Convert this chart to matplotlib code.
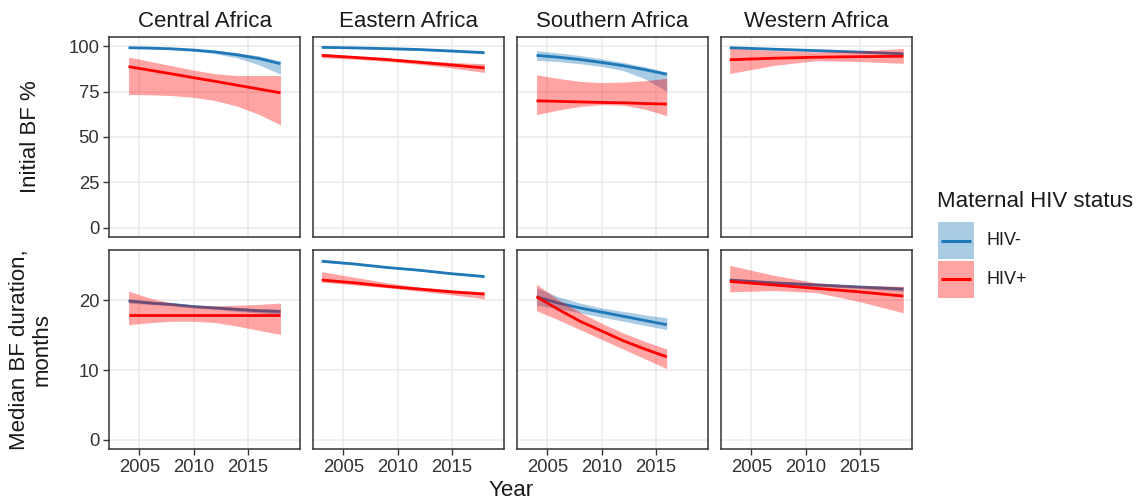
import matplotlib
matplotlib.use("Agg")
import matplotlib.pyplot as plt
from matplotlib.patches import Rectangle

plt.rcParams['font.family'] = ['Liberation Sans', 'DejaVu Sans']

regions = ['Central Africa', 'Eastern Africa', 'Southern Africa', 'Western Africa']
status = ['HIV-', 'HIV+']

# years per region
years_central = [2004, 2006, 2008, 2010, 2012, 2014, 2016, 2018]
years_eastern = [2003, 2006, 2009, 2012, 2015, 2018]
years_southern = [2004, 2006, 2008, 2010, 2012, 2014, 2016]
years_western = [2003, 2007, 2011, 2015, 2019]

# initial BF %: (fit, lower, upper)
init_central_neg = ([99.1, 98.9, 98.5, 97.8, 96.8, 95.2, 93.2, 90.3],
                    [98.7, 98.5, 98.0, 97.2, 95.8, 93.5, 89.8, 84.5],
                    [99.4, 99.2, 98.9, 98.4, 97.6, 96.4, 94.6, 91.8])
init_central_pos = ([88.7, 86.7, 84.7, 82.6, 80.6, 78.5, 76.4, 74.3],
                    [73.4, 73.2, 72.8, 71.8, 70.0, 67.0, 62.5, 56.7],
                    [94.0, 91.6, 89.2, 86.8, 84.8, 83.8, 83.8, 83.8])
init_eastern_neg = ([99.3, 99.0, 98.6, 98.1, 97.3, 96.4],
                    [99.0, 98.7, 98.2, 97.6, 96.7, 95.8],
                    [99.5, 99.3, 98.9, 98.5, 97.8, 97.0])
init_eastern_pos = ([94.9, 93.8, 92.6, 91.1, 89.6, 88.0],
                    [93.6, 92.8, 91.6, 90.0, 88.0, 85.5],
                    [96.0, 94.6, 93.4, 92.2, 91.0, 90.3])
init_southern_neg = ([94.9, 93.9, 92.6, 91.0, 89.2, 87.0, 84.5],
                     [92.2, 91.5, 90.3, 88.8, 86.5, 82.0, 75.0],
                     [97.5, 96.2, 94.8, 93.0, 91.0, 88.6, 85.8])
init_southern_pos = ([69.9, 69.6, 69.3, 69.0, 68.8, 68.4, 68.1],
                     [62.3, 64.8, 66.8, 67.8, 67.5, 65.3, 61.7],
                     [84.2, 82.2, 80.6, 79.9, 80.2, 81.0, 82.3])
init_western_neg = ([99.1, 98.3, 97.5, 96.7, 95.8],
                    [98.7, 97.9, 97.1, 96.2, 95.2],
                    [99.4, 98.7, 97.9, 97.2, 96.4])
init_western_pos = ([92.5, 93.3, 93.9, 94.2, 94.4],
                    [84.9, 89.3, 92.0, 91.5, 90.5],
                    [98.7, 97.6, 96.8, 97.3, 98.7])

# median BF duration, months: (fit, lower, upper)
dur_central_neg = ([19.9, 19.6, 19.4, 19.1, 18.9, 18.7, 18.5, 18.4],
                   [19.6, 19.4, 19.2, 18.9, 18.7, 18.4, 18.2, 18.0],
                   [20.2, 19.9, 19.6, 19.3, 19.1, 18.9, 18.8, 18.7])
dur_central_pos = ([17.9, 17.9, 17.9, 17.9, 17.9, 17.9, 17.9, 17.9],
                   [16.5, 16.8, 17.0, 17.0, 16.8, 16.3, 15.7, 15.1],
                   [21.3, 20.3, 19.6, 19.3, 19.2, 19.3, 19.4, 19.6])
dur_eastern_neg = ([25.6, 25.2, 24.7, 24.3, 23.8, 23.4],
                   [25.45, 25.05, 24.6, 24.2, 23.7, 23.25],
                   [25.75, 25.35, 24.8, 24.4, 23.9, 23.55])
dur_eastern_pos = ([22.9, 22.5, 22.0, 21.6, 21.2, 20.9],
                   [22.6, 22.2, 21.8, 21.3, 20.8, 20.2],
                   [24.1, 23.3, 22.5, 21.9, 21.5, 21.2])
dur_southern_neg = ([20.5, 19.6, 18.9, 18.3, 17.7, 17.1, 16.5],
                    [19.3, 18.8, 18.2, 17.6, 17.0, 16.4, 15.8],
                    [21.8, 20.5, 19.6, 18.9, 18.4, 17.9, 17.5])
dur_southern_pos = ([20.5, 18.7, 17.0, 15.6, 14.2, 13.0, 11.9],
                    [18.5, 17.2, 15.8, 14.4, 13.0, 11.6, 10.2],
                    [22.3, 20.1, 18.3, 16.7, 15.3, 14.1, 13.0])
dur_western_neg = ([22.9, 22.5, 22.2, 21.9, 21.6],
                   [22.7, 22.3, 22.0, 21.7, 21.3],
                   [23.1, 22.7, 22.4, 22.1, 21.9])
dur_western_pos = ([22.7, 22.2, 21.7, 21.2, 20.6],
                   [21.2, 21.4, 21.1, 19.8, 18.2],
                   [25.0, 23.6, 22.5, 22.1, 22.0])

years = [years_central, years_eastern, years_southern, years_western]
initial = [(init_central_neg, init_central_pos), (init_eastern_neg, init_eastern_pos),
           (init_southern_neg, init_southern_pos), (init_western_neg, init_western_pos)]
duration = [(dur_central_neg, dur_central_pos), (dur_eastern_neg, dur_eastern_pos),
            (dur_southern_neg, dur_southern_pos), (dur_western_neg, dur_western_pos)]

line_cols = ['#1f78b8', '#ff0000']
fill_cols = ['#1f78b8', '#ff0000']
fill_alpha = [0.38, 0.36]

W, H = 1138, 503
fig = plt.figure(figsize=(W / 100, H / 100), dpi=100)

panel_left = [109, 313, 517, 721]
panel_w = 191
rows = [(37, 200), (250, 199)]

grid_col = '#ebebeb'
frame_col = '#333333'


def add_panel(col, row):
    x0 = panel_left[col]
    top, h = rows[row]
    return fig.add_axes([x0 / W, 1 - (top + h) / H, panel_w / W, h / H])


for row, data in enumerate([initial, duration]):
    for col in range(4):
        ax = add_panel(col, row)
        for k in range(2):
            fit, lo, hi = data[col][k]
            ax.fill_between(years[col], lo, hi, color=fill_cols[k], alpha=fill_alpha[k],
                            linewidth=0, zorder=2 + 2 * k)
            ax.plot(years[col], fit, color=line_cols[k], lw=2.0, zorder=3 + 2 * k,
                    solid_capstyle='butt')
        ax.set_xlim(2002.2, 2019.8)
        ax.set_xticks([2005, 2010, 2015])
        if row == 0:
            ax.set_ylim(-5, 105)
            ax.set_yticks([0, 25, 50, 75, 100])
            ax.set_title(regions[col], fontsize=16, pad=7, color='#1a1a1a')
        else:
            ax.set_ylim(-1.3, 27.2)
            ax.set_yticks([0, 10, 20])
        ax.grid(True, color=grid_col, lw=1.1, zorder=0)
        ax.set_axisbelow(True)
        for s in ax.spines.values():
            s.set_color(frame_col)
            s.set_linewidth(1.1)
        ax.tick_params(length=4, width=1, color=frame_col, labelsize=13.3,
                       labelcolor='#333333', pad=3)
        if col > 0:
            ax.tick_params(axis='y', left=False, labelleft=False)
        if row == 0:
            ax.tick_params(axis='x', bottom=False, labelbottom=False)

fig.text(30 / W, 1 - 137 / H, 'Initial BF %', rotation=90, fontsize=16,
         ha='center', va='center', color='#1a1a1a')
fig.text(31 / W, 1 - 350 / H, 'Median BF duration,\nmonths', rotation=90, fontsize=16,
         ha='center', va='center', color='#1a1a1a', linespacing=1.1)
fig.text(511 / W, 1 - 491 / H, 'Year', fontsize=16, ha='center', va='center', color='#1a1a1a')

# legend drawn in pixel space
lax = fig.add_axes([0, 0, 1, 1], facecolor='none')
lax.set_xlim(0, W)
lax.set_ylim(H, 0)
lax.axis('off')
lax.text(937, 207, 'Maternal HIV status', fontsize=16, va='baseline', ha='left',
         color='#1a1a1a')
key_top = [222, 260.5]
key_h = 37
for k in range(2):
    y0 = key_top[k]
    lax.add_patch(Rectangle((938, y0), 36, key_h, facecolor=fill_cols[k],
                            alpha=fill_alpha[k], edgecolor='none'))
    yc = y0 + key_h / 2
    lax.plot([941, 971], [yc, yc], color=line_cols[k], lw=2.2, solid_capstyle='butt')
    lax.text(987, yc, status[k], fontsize=13, va='center', ha='left', color='#1a1a1a')

fig.savefig('out.png', dpi=100)
